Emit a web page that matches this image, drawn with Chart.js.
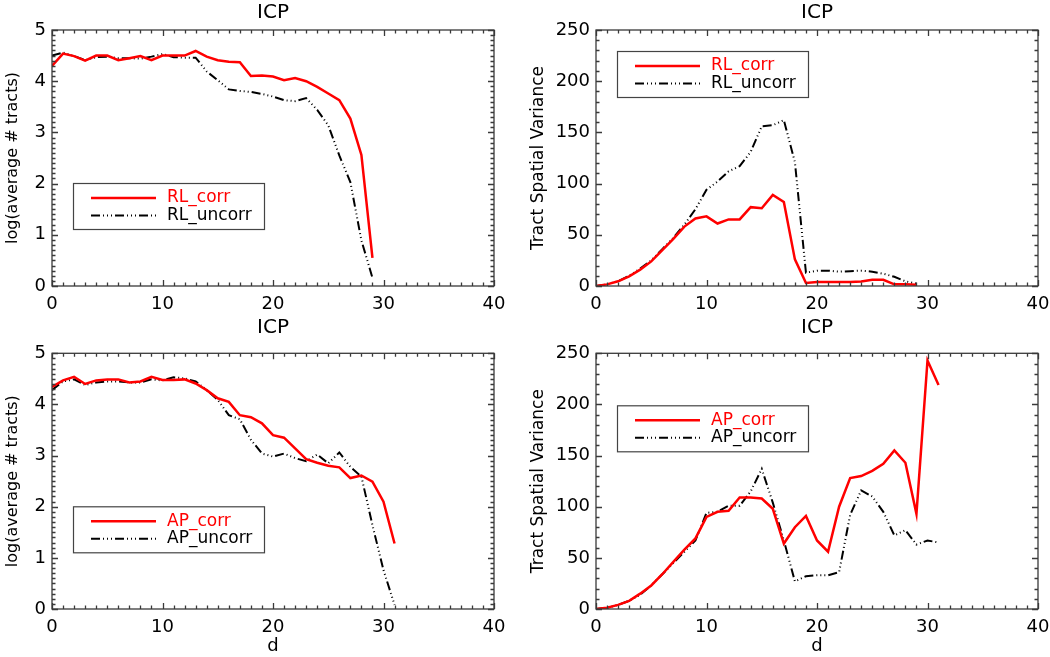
<!DOCTYPE html>
<html><head><meta charset="utf-8">
<script src="https://cdn.jsdelivr.net/npm/chart.js@4/dist/chart.umd.min.js"></script>
<style>
html,body{margin:0;padding:0;background:#fff;}
body{width:1050px;height:657px;position:relative;overflow:hidden;}
.p{position:absolute;}
</style></head><body>
<div class="p" style="left:0px;top:0px;width:525px;height:320px"><canvas id="c1"></canvas></div>
<div class="p" style="left:525px;top:0px;width:525px;height:320px"><canvas id="c2"></canvas></div>
<div class="p" style="left:0px;top:315px;width:525px;height:342px"><canvas id="c3"></canvas></div>
<div class="p" style="left:525px;top:315px;width:525px;height:342px"><canvas id="c4"></canvas></div>
<script>
// ---- data ----
const dRL = [0,1,2,3,4,5,6,7,8,9,10,11,12,13,14,15,16,17,18,19,20,21,22,23,24,25,26,27,28,29];
const dAP = [0,1,2,3,4,5,6,7,8,9,10,11,12,13,14,15,16,17,18,19,20,21,22,23,24,25,26,27,28,29,30,31];

const rlCorrLog   = [4.30,4.54,4.49,4.40,4.50,4.50,4.41,4.45,4.49,4.41,4.50,4.50,4.50,4.59,4.48,4.41,4.38,4.37,4.10,4.11,4.09,4.02,4.06,4.00,3.89,3.76,3.63,3.27,2.56,0.55];
const rlUncorrLog = [4.50,4.56,4.49,4.41,4.47,4.48,4.45,4.45,4.44,4.48,4.53,4.47,4.46,4.46,4.19,4.02,3.84,3.81,3.79,3.75,3.70,3.63,3.61,3.67,3.44,3.14,2.55,2.03,0.89,0.16];

const rlCorrVar   = [0,1.6,4.6,9.5,16,24,35,46,58,66,68,61,65,65,77,76,89,82,26,3,4,4,4,4,4.5,6,6,1.6,1.6,1.3];
const rlUncorrVar = [0,1.6,4.6,10,17,25,36,47,60,75,94,102,112,117,131,156,157,162,121,13,15,15,14,14.5,15,14,12,9,4.6,2.3];

const apCorrLog   = [4.34,4.47,4.54,4.40,4.47,4.49,4.49,4.43,4.45,4.54,4.48,4.48,4.49,4.41,4.28,4.12,4.05,3.79,3.75,3.63,3.40,3.35,3.14,2.93,2.86,2.80,2.77,2.56,2.61,2.49,2.10,1.28];
const apUncorrLog = [4.28,4.45,4.49,4.38,4.43,4.45,4.45,4.43,4.43,4.49,4.47,4.53,4.51,4.45,4.28,4.09,3.79,3.71,3.31,3.04,2.98,3.04,2.95,2.89,3.02,2.85,3.06,2.78,2.59,1.64,0.76,0.08];

const apCorrVar   = [0,1.3,4,8,15,23,34,46,58,69,90,95,96,109,109,108,98,64,80,91,67,56,100,128,130,135,142,155,143,93,243,219];
const apUncorrVar = [0,1.3,4,8,14,23,34,45,56,67,94,95,101,101,115,137,104,67,27,32,33,33,36,92,116,110,95,72,77,63,67,65];

const panelTitle = 'ICP';
const xTitle = 'd';
const yTitleLog = 'log(average # tracts)';
const yTitleVar = 'Tract Spatial Variance';

// ---- styling ----
const FONT = "'DejaVu Sans', 'Liberation Sans', sans-serif";
Chart.defaults.font.family = FONT;
Chart.defaults.color = '#000';
const RED = '#ff0000';
const BLACK = '#000000';
const DASH = [9,3,1,3,1,3,1,3];
const FRAME = '#3a3a3a';

const innerTicks = {
  id: 'innerTicks',
  afterDatasetsDraw(chart, args, o) {
    const ctx = chart.ctx, ca = chart.chartArea;
    const xs = chart.scales.x, ys = chart.scales.y;
    ctx.save();
    ctx.strokeStyle = FRAME;
    ctx.lineWidth = 1.3;
    ctx.beginPath();
    for (let v = xs.min; v <= xs.max + 1e-9; v += o.xMinor) {
      const px = Math.round(xs.getPixelForValue(v)) + 0.5;
      const major = Math.abs(v / o.xMajor - Math.round(v / o.xMajor)) < 1e-6;
      const L = major ? 6 : 3.5;
      ctx.moveTo(px, ca.bottom); ctx.lineTo(px, ca.bottom - L);
      ctx.moveTo(px, ca.top); ctx.lineTo(px, ca.top + L);
    }
    const nY = Math.round((ys.max - ys.min) / o.yMinor);
    for (let i = 0; i <= nY; i++) {
      const v = ys.min + i * o.yMinor;
      const py = Math.round(ys.getPixelForValue(v)) + 0.5;
      const major = Math.abs(v / o.yMajor - Math.round(v / o.yMajor)) < 1e-6;
      const L = major ? 6 : 3.5;
      ctx.moveTo(ca.left, py); ctx.lineTo(ca.left + L, py);
      ctx.moveTo(ca.right, py); ctx.lineTo(ca.right - L, py);
    }
    ctx.stroke();
    ctx.strokeRect(ca.left, ca.top, ca.right - ca.left, ca.bottom - ca.top);
    ctx.restore();
  }
};

const boxLegend = {
  id: 'boxLegend',
  afterDraw(chart, args, o) {
    const ctx = chart.ctx, ca = chart.chartArea;
    const x0 = ca.left + o.left, y0 = ca.top + o.top;
    ctx.save();
    ctx.fillStyle = '#fff';
    ctx.fillRect(x0, y0, o.width, o.height);
    ctx.strokeStyle = '#444';
    ctx.lineWidth = 1.2;
    ctx.strokeRect(x0 + 0.5, y0 + 0.5, o.width, o.height);
    chart.data.datasets.forEach((ds, i) => {
      const y = y0 + o.rows[i];
      ctx.beginPath();
      ctx.strokeStyle = ds.borderColor;
      ctx.lineWidth = ds.borderWidth;
      ctx.setLineDash(ds.borderDash || []);
      ctx.moveTo(x0 + o.lineStart, y); ctx.lineTo(x0 + o.lineEnd, y);
      ctx.stroke();
      ctx.setLineDash([]);
      ctx.fillStyle = ds.textColor;
      ctx.font = o.fontSize + 'px ' + FONT;
      ctx.textBaseline = 'middle';
      ctx.textAlign = 'left';
      ctx.fillText(ds.label, x0 + o.textX, y);
    });
    ctx.restore();
  }
};

function pts(xs, ys) { return xs.map((x, i) => ({x: x, y: ys[i]})); }

function makeChart(id, cfg) {
  const ds = [
    {label: cfg.labels[0], data: pts(cfg.d, cfg.corr), borderColor: RED, textColor: RED, borderWidth: 2.5, borderDash: [], pointRadius: 0, tension: 0, fill: false},
    {label: cfg.labels[1], data: pts(cfg.d, cfg.uncorr), borderColor: BLACK, textColor: BLACK, borderWidth: 2, borderDash: DASH, pointRadius: 0, tension: 0, fill: false}
  ];
  return new Chart(document.getElementById(id), {
    type: 'line',
    data: {datasets: ds},
    options: {
      responsive: true, maintainAspectRatio: false, animation: false,
      devicePixelRatio: 1,
      layout: {padding: {left: 0, right: cfg.padRight, top: 0, bottom: 0}},
      scales: {
        x: {
          type: 'linear', min: 0, max: 40,
          grid: {display: false, drawTicks: false},
          border: {display: false},
          ticks: {stepSize: 10, padding: 8, font: {size: 18}, color: '#000', maxRotation: 0},
          title: {display: cfg.showX, text: xTitle, font: {size: 18}, color: '#000', padding: {top: 0, bottom: 0}},
          afterFit: (s) => { s.height = cfg.xHeight; s.paddingLeft = 0; s.paddingRight = 0; }
        },
        y: {
          type: 'linear', min: cfg.yMin, max: cfg.yMax,
          grid: {display: false, drawTicks: false},
          border: {display: false},
          ticks: {stepSize: cfg.yStep, padding: 6, font: {size: 18}, color: '#000'},
          title: {display: true, text: cfg.yTitle, font: {size: cfg.yTitleSize}, color: '#000', padding: {top: 3, bottom: 0}},
          afterFit: (s) => { s.width = cfg.yWidth; s.paddingTop = 0; s.paddingBottom = 0; }
        }
      },
      plugins: {
        legend: {display: false},
        tooltip: {enabled: false},
        title: {display: true, text: panelTitle, fullSize: false, font: {size: 20, weight: 'normal'}, color: '#000', padding: {top: 1, bottom: cfg.titlePadBottom}},
        innerTicks: {xMinor: 1, xMajor: 10, yMinor: cfg.yMinor, yMajor: cfg.yStep},
        boxLegend: Object.assign({rows: [15, 32.5], lineStart: 18, lineEnd: 83, textX: 94, fontSize: 17, width: 191, height: 46}, cfg.legend)
      }
    },
    plugins: [innerTicks, boxLegend]
  });
}

makeChart('c1', {d: dRL, corr: rlCorrLog, uncorr: rlUncorrLog, labels: ['RL_corr', 'RL_uncorr'],
  yMin: 0, yMax: 5, yStep: 1, yMinor: 0.1, yTitle: yTitleLog, yTitleSize: 16, yWidth: 52, padRight: 31,
  xHeight: 34, showX: false, titlePadBottom: 5, legend: {left: 21, top: 153}});
makeChart('c2', {d: dRL, corr: rlCorrVar, uncorr: rlUncorrVar, labels: ['RL_corr', 'RL_uncorr'],
  yMin: 0, yMax: 250, yStep: 50, yMinor: 10, yTitle: yTitleVar, yTitleSize: 17, yWidth: 71, padRight: 12,
  xHeight: 34, showX: false, titlePadBottom: 5, legend: {left: 21, top: 21}});
makeChart('c3', {d: dAP, corr: apCorrLog, uncorr: apUncorrLog, labels: ['AP_corr', 'AP_uncorr'],
  yMin: 0, yMax: 5, yStep: 1, yMinor: 0.1, yTitle: yTitleLog, yTitleSize: 16, yWidth: 52, padRight: 31,
  xHeight: 48, showX: true, titlePadBottom: 13.3, legend: {left: 21, top: 153}});
makeChart('c4', {d: dAP, corr: apCorrVar, uncorr: apUncorrVar, labels: ['AP_corr', 'AP_uncorr'],
  yMin: 0, yMax: 250, yStep: 50, yMinor: 10, yTitle: yTitleVar, yTitleSize: 17, yWidth: 71, padRight: 12,
  xHeight: 48, showX: true, titlePadBottom: 13.3, legend: {left: 21, top: 52}});
</script>
</body></html>
